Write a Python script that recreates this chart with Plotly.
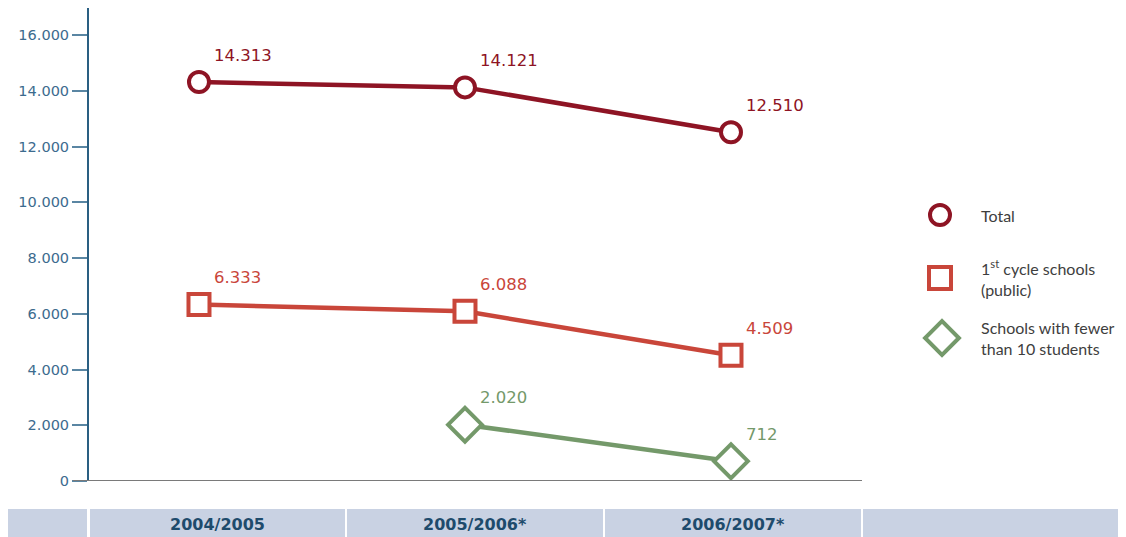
import plotly.graph_objects as go

years = ["2004/2005", "2005/2006*", "2006/2007*"]
x_pos = [0, 1, 2]
total = [14313, 14121, 12510]
first_cycle = [6333, 6088, 4509]
fewer10 = [None, 2020, 712]
y_ticks = [0, 2000, 4000, 6000, 8000, 10000, 12000, 14000, 16000]

names = ["Total", "1<sup>st</sup> cycle schools<br>(public)", "Schools with fewer<br>than 10 students"]
colors = ["#8E1424", "#C9463A", "#74996A"]
symbols = ["circle", "square", "diamond"]
sizes = [20, 21, 26]
series = [total, first_cycle, fewer10]

# page is offset 8px by the default body margin
W, H = 1118, 529
L, R, T, B = 81, 0, 0, 56
PW = W - L - R          # paper width in px
PH = H - T - B          # paper height in px
main_dom = 773 / PW      # plot area width 773px


def px_x(page_x):
    return (page_x - 89) / PW


def px_y(page_y):
    return (481 - page_y) / PH


def fmt(v):
    return f"{v:,}".replace(",", ".")


fig = go.Figure()
annotations = []
for vals, col, sym, sz in zip(series, colors, symbols, sizes):
    xs = [x for x, v in zip(x_pos, vals) if v is not None]
    ys = [v for v in vals if v is not None]
    fig.add_trace(go.Scatter(
        x=xs, y=ys, mode="lines", line=dict(color=col, width=4.5),
        showlegend=False, hoverinfo="skip"))
    fig.add_trace(go.Scatter(
        x=xs, y=ys, mode="markers",
        marker=dict(symbol=sym, size=sz, color="white",
                    line=dict(color=col, width=4)),
        showlegend=False))
    for x, v in zip(xs, ys):
        annotations.append(dict(
            x=x, y=v, xref="x", yref="y", text=fmt(v), showarrow=False,
            xanchor="left", yanchor="middle", xshift=13, yshift=27,
            font=dict(family="DejaVu Sans", size=16.5, color=col)))

# manual legend on an overlay axis measured in page pixels
leg_x = [940, 940, 942]
leg_y = [-215, -278, -338]
leg_sizes = [20, 22, 26]
for name, col, sym, lx, ly, ls in zip(names, colors, symbols, leg_x, leg_y, leg_sizes):
    fig.add_trace(go.Scatter(
        x=[lx], y=[ly], xaxis="x2", yaxis="y2", mode="markers",
        marker=dict(symbol=sym, size=ls, color="white",
                    line=dict(color=col, width=4)),
        showlegend=False, hoverinfo="skip"))
    annotations.append(dict(
        x=979, y=ly, xref="x2", yref="y2", text=name, showarrow=False,
        xanchor="left", yanchor="middle", align="left",
        font=dict(family="Lato", size=16, color="#3E3E3E")))

shapes = []
band_cells = [(8, 87), (90, 345), (347, 603), (605, 861), (863, 1126)]
for x0, x1 in band_cells:
    shapes.append(dict(type="rect", xref="paper", yref="paper",
                       x0=px_x(x0), x1=px_x(x1), y0=px_y(509), y1=px_y(540),
                       fillcolor="#C9D2E3", line=dict(width=0), layer="below"))
for i, yr in enumerate(years):
    x0, x1 = band_cells[i + 1]
    annotations.append(dict(
        x=px_x((x0 + x1) / 2), y=px_y(524), xref="paper", yref="paper", text=yr,
        showarrow=False, xanchor="center", yanchor="middle",
        font=dict(family="DejaVu Sans", size=16, color="#1E4B6C", weight=600)))

# zero baseline (grey)
shapes.append(dict(type="line", xref="paper", yref="y", x0=px_x(73), x1=main_dom,
                   y0=0, y1=0, line=dict(color="#7A7A7A", width=2)))

y_top = (481 - 8) / 55.75 * 2000

fig.update_layout(
    width=W, height=H,
    margin=dict(l=L, r=R, t=T, b=B),
    plot_bgcolor="white", paper_bgcolor="white",
    separators=",.",
    showlegend=False,
    xaxis=dict(domain=[0, main_dom], range=[-0.4135, 2.4925], showgrid=False,
               zeroline=False, showticklabels=False, showline=False, ticks=""),
    yaxis=dict(range=[0, y_top], tickvals=y_ticks,
               ticktext=[fmt(v) for v in y_ticks],
               showgrid=False, zeroline=False, showline=True,
               linecolor="#2A5F82", linewidth=2, ticks="outside",
               ticklen=15, tickwidth=1.5, tickcolor="#5A86A3",
               tickfont=dict(family="DejaVu Sans", size=14.5, color="#3C6B8E")),
    xaxis2=dict(domain=[0.75, 1], range=[89 + 0.75 * PW, 89 + PW], visible=False,
                fixedrange=True),
    yaxis2=dict(domain=[0, 1], range=[-481, -8], visible=False, anchor="x2",
                fixedrange=True),
    annotations=annotations, shapes=shapes,
)

fig.write_html("out.html")
